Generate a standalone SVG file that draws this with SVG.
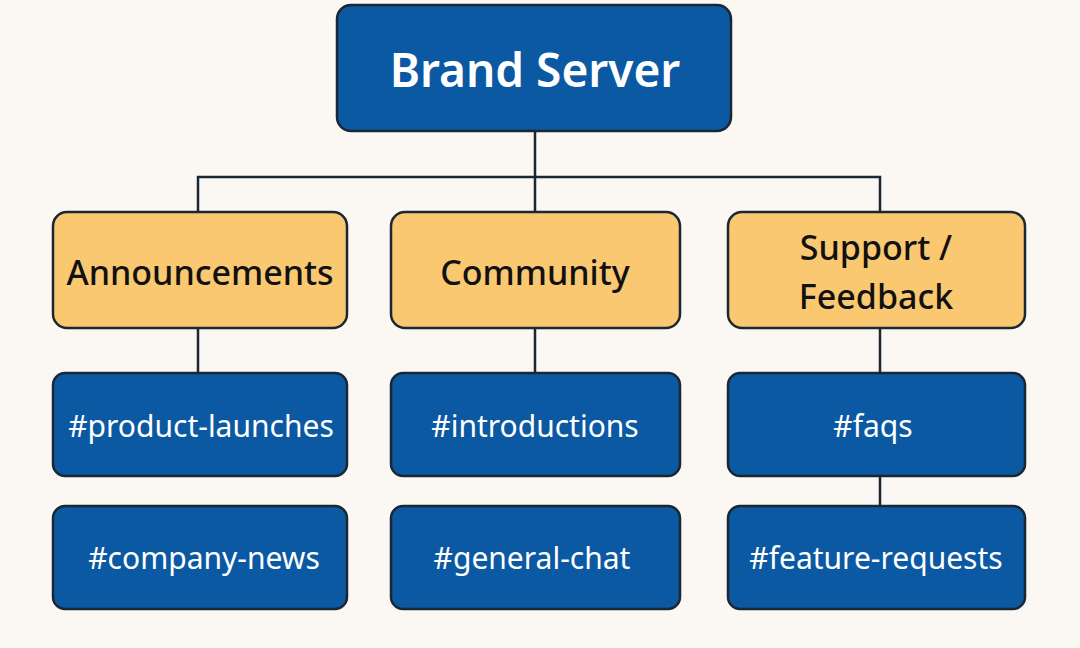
<svg xmlns="http://www.w3.org/2000/svg" width="1080" height="648" viewBox="0 0 1080 648">
<style>
.blue{fill:#0b59a3;stroke:#1b2733;stroke-width:2.5}
.cat{fill:#f9c870;stroke:#1b2733;stroke-width:2.5}
.t{font-family:"Noto Sans","Liberation Sans",sans-serif;text-anchor:middle;dominant-baseline:central}
.w{fill:#fff;font-size:30px}
.d{fill:#111;font-size:34px;font-weight:500}
.c{stroke:#1b2733;stroke-width:2.5;fill:none}
</style>
<rect width="1080" height="648" fill="#fbf7f2"/>
<g id="connectors">
<path class="c" d="M535 131V177M198 212V177H880V212M535 177V212M198 328V373M535 328V373M880 328V373M880 476V506"/>
</g>
<g id="root"><rect class="blue" x="337" y="5" width="394" height="126" rx="14"/><text class="t" x="535" y="69" fill="#fff" font-size="46" font-weight="600">Brand Server</text></g>
<g id="announcements"><rect class="cat" x="53" y="212" width="294" height="116" rx="14"/><text class="t d" x="200" y="272">Announcements</text></g>
<g id="community"><rect class="cat" x="391" y="212" width="289" height="116" rx="14"/><text class="t d" x="535" y="272">Community</text></g>
<g id="support"><rect class="cat" x="728" y="212" width="297" height="116" rx="14"/><text class="t d" x="876" y="247">Support /</text><text class="t d" x="876" y="296">Feedback</text></g>
<g id="product-launches"><rect class="blue" x="53" y="373" width="294" height="103" rx="12"/><text class="t w" x="201" y="425">#product-launches</text></g>
<g id="company-news"><rect class="blue" x="53" y="506" width="294" height="103" rx="12"/><text class="t w" x="204" y="557">#company-news</text></g>
<g id="introductions"><rect class="blue" x="391" y="373" width="289" height="103" rx="12"/><text class="t w" x="535" y="425">#introductions</text></g>
<g id="general-chat"><rect class="blue" x="391" y="506" width="289" height="103" rx="12"/><text class="t w" x="532" y="557">#general-chat</text></g>
<g id="faqs"><rect class="blue" x="728" y="373" width="297" height="103" rx="12"/><text class="t w" x="873" y="425">#faqs</text></g>
<g id="feature-requests"><rect class="blue" x="728" y="506" width="297" height="103" rx="12"/><text class="t w" x="876" y="557">#feature-requests</text></g>
</svg>
